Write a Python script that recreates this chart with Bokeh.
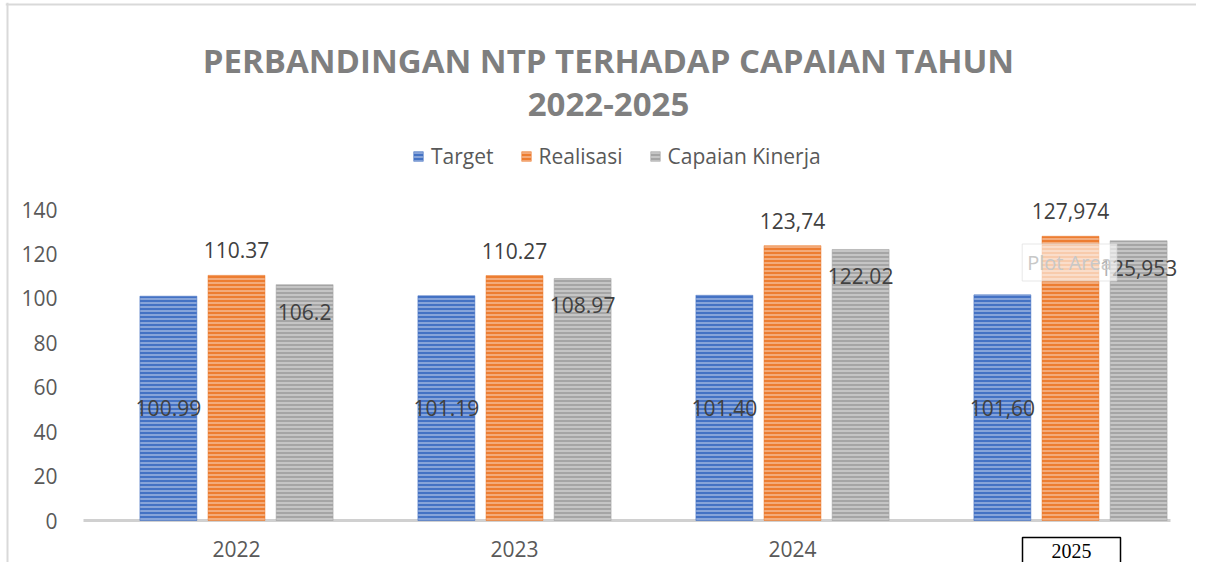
from bokeh.plotting import figure
from bokeh.models import (ColumnDataSource, Legend, LegendItem, Label, Span,
                          FixedTicker, Range1d)
from bokeh.embed import file_html
from bokeh.resources import INLINE
from bokeh.core.properties import value

# ---------------- data ----------------
years = ["2022", "2023", "2024", "2025"]
target = [100.99, 101.19, 101.40, 101.60]
realisasi = [110.37, 110.27, 123.74, 127.974]
capaian = [106.2, 108.97, 122.02, 125.953]
target_labels = ["100.99", "101.19", "101.40", "101,60"]
realisasi_labels = ["110.37", "110.27", "123,74", "127,974"]
capaian_labels = ["106.2", "108.97", "122.02", "125,953"]
series_names = ["Target", "Realisasi", "Capaian Kinerja"]
y_ticks = [0, 20, 40, 60, 80, 100, 120, 140]
title_lines = ["PERBANDINGAN NTP TERHADAP CAPAIAN TAHUN", "2022-2025"]

# ---------------- layout helpers (pixel -> data) ----------------
W, H = 1196, 562
FRAME_L, FRAME_T = 5, 2
X0_PX, PX_PER_X = 236.0, 278.0     # centre of first group, px per category
Y0_PX, PX_PER_Y = 520.0, 2.221     # baseline, px per unit


def dx(px):
    return (px - X0_PX) / PX_PER_X


def dy(py):
    return (Y0_PX - py) / PX_PER_Y


colors = ["#4472C4", "#ED7D31", "#A5A5A5"]
FONT = "Open Sans"

p = figure(width=W, height=H, output_backend="svg", toolbar_location=None,
           x_range=Range1d(dx(FRAME_L), dx(W)), y_range=Range1d(dy(H), dy(FRAME_T)),
           min_border_left=FRAME_L, min_border_top=FRAME_T,
           min_border_right=0, min_border_bottom=0)
p.title.visible = False
p.outline_line_color = None
p.xgrid.visible = False
p.ygrid.visible = False
p.background_fill_color = "white"
p.border_fill_color = "white"

# chart border (left and top edges)
p.add_layout(Span(location=dx(7), dimension="height", line_color="#D9D9D9", line_width=2))
p.add_layout(Span(location=dy(4), dimension="width", line_color="#D9D9D9", line_width=2))

# category baseline
p.segment(x0=[dx(83)], y0=[0], x1=[dx(1170)], y1=[0], line_color="#D0D0D0", line_width=3)

idx = list(range(len(years)))
offsets = [-0.245, 0.0, 0.245]
series = [target, realisasi, capaian]
labels = [target_labels, realisasi_labels, capaian_labels]

renderers = []
for s, (vals, off, col, labs) in enumerate(zip(series, offsets, colors, labels)):
    xs = [i + off for i in idx]
    src = ColumnDataSource(dict(x=xs, top=vals, mid=[v / 2 for v in vals], lab=labs))
    r = p.vbar(x="x", top="top", width=0.205, source=src, fill_color=col,
               line_color=col, line_alpha=0.5, line_width=1,
               hatch_pattern="horizontal_line", hatch_color="white",
               hatch_alpha=0.55, hatch_scale=4, hatch_weight=1.3)
    renderers.append(r)
    if s == 0:
        yfield, yoff = "mid", 0
    elif s == 1:
        yfield, yoff = "top", -25
    else:
        yfield, yoff = "top", 27
    p.text(x="x", y=yfield, text="lab", source=src, text_align="center",
           text_baseline="middle", y_offset=yoff, text_font=value(FONT),
           text_font_size="21px", text_color="#404040")

# faint "Plot Area" tooltip artifact seen in the picture
p.add_layout(Label(x=dx(1069), y=dy(262), text="Plot Area", text_align="center",
                   text_baseline="middle", text_font=FONT, text_font_size="20px",
                   text_color="#C8C8C8", background_fill_color="white",
                   background_fill_alpha=0.6, border_line_color="#DDDDDD",
                   border_line_alpha=0.7, padding=5))

# ---------------- axes ----------------
p.yaxis.fixed_location = dx(83)
p.yaxis.ticker = FixedTicker(ticks=y_ticks)
p.yaxis.axis_line_color = None
p.yaxis.major_tick_line_color = None
p.yaxis.minor_tick_line_color = None
p.yaxis.major_label_text_font = FONT
p.yaxis.major_label_text_font_size = "21px"
p.yaxis.major_label_text_color = "#595959"
p.yaxis.major_label_standoff = 20

p.xaxis.fixed_location = 0
p.xaxis.ticker = FixedTicker(ticks=idx)
p.xaxis.major_label_overrides = {i: (y if i < len(years) - 1 else "") for i, y in enumerate(years)}
p.xaxis.axis_line_color = None
p.xaxis.major_tick_line_color = None
p.xaxis.minor_tick_line_color = None
p.xaxis.major_label_text_font = FONT
p.xaxis.major_label_text_font_size = "21px"
p.xaxis.major_label_text_color = "#595959"
p.xaxis.major_label_standoff = 14

# boxed last-year label (pasted image style)
p.add_layout(Label(x=dx(1071), y=dy(550), text=years[-1], text_align="center",
                   text_baseline="middle", text_font="Liberation Serif",
                   text_font_size="20px", text_color="black",
                   border_line_color="black", border_line_width=1.5,
                   background_fill_color="white", padding=(29, 6)))

# ---------------- titles ----------------
for line, py in zip(title_lines, [60, 104]):
    p.add_layout(Label(x=dx(608), y=dy(py), text=line, text_align="center",
                       text_baseline="alphabetic", text_font=FONT,
                       text_font_size="33px", text_font_style="bold",
                       text_color="#7F7F7F"))

# ---------------- legend ----------------
legend = Legend(items=[LegendItem(label=n, renderers=[r]) for n, r in zip(series_names, renderers)],
                orientation="horizontal", location=(407, 392),
                label_text_font=FONT, label_text_font_size="21px",
                label_text_color="#595959", glyph_width=12, glyph_height=12,
                label_standoff=7, spacing=26, border_line_color=None,
                background_fill_alpha=0, margin=0, padding=0)
p.add_layout(legend, "center")

open("out.html", "w").write(file_html(p, INLINE))
